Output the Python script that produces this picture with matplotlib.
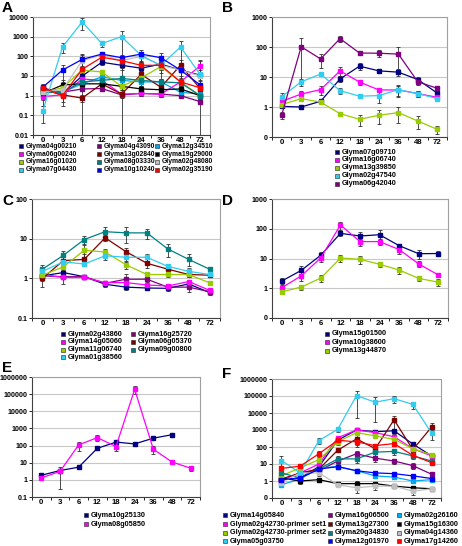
import matplotlib
matplotlib.use('Agg')
import matplotlib.pyplot as plt
from matplotlib.lines import Line2D
from matplotlib.ticker import FixedLocator, NullLocator
from matplotlib import font_manager
import numpy as np

# make sure the Arial-metric Liberation fonts are registered
for _f in font_manager.findSystemFonts():
    if 'Liberation' in _f or 'liberation' in _f:
        try:
            font_manager.fontManager.addfont(_f)
        except Exception:
            pass
_names = {f.name for f in font_manager.fontManager.ttflist}
FAM = 'DejaVu Sans'
for _n in ['Liberation Sans', 'Arimo', 'Arial', 'Roboto', 'Noto Sans']:
    if _n in _names:
        FAM = _n
        break
plt.rcParams['font.family'] = [FAM, 'DejaVu Sans']

W, H = 462, 546
hours = ['0', '3', '6', '12', '18', '24', '36', '48', '72']

NAVY = '#000080'; MAG = '#FF00FF'; YG = '#99CC00'; CYAN = '#33CCEE'
PURP = '#800080'; DRED = '#800000'; TEAL = '#008080'; BLUE = '#0000FF'
SKY = '#00A8F0'; BLACK = '#000000'; GRAY = '#C0C0C0'; RED = '#FF0000'

# ---------------- Panel A ----------------
A_04g00210 = [2.5, 1.3, 10, 50, 35, 25, 40, 20, 11]
A_04g00210_err = [1, 0.5, 4, 15, 10, 8, 15, 10, 5]
A_06g00240 = [0.9, 1.1, 7, 6, 1.2, 1.3, 1.2, 5, 33]
A_06g00240_err = [0.3, 0.3, 2, 2, 0.3, 0.3, 0.3, 2, 30]
A_16g01020 = [1.5, 2.5, 20, 16, 3, 8, 30, 5, 1]
A_16g01020_err = [0.5, 1.5, 8, 5, 1, 3, 10, 2, 0.3]
A_07g04430 = [0.17, 300, 5600, 450, 1000, 110, 35, 300, 12]
A_07g04430_err = [0.13, 150, 3500, 150, 1000, 60, 20, 280, 8]
A_04g43090 = [2.2, 1.5, 2.2, 2.3, 1.1, 1.3, 1.2, 1.0, 0.5]
A_04g43090_err = [0.5, 0.5, 0.5, 0.5, 0.2, 0.3, 0.3, 0.2, 0.1]
A_13g02840 = [2.0, 1.1, 0.75, 4, 1.2, 12, 2.7, 35, 2.3]
A_13g02840_err = [0.8, 0.8, 0.3, 2, 0.4, 5, 1.5, 30, 1]
A_08g03330 = [1.5, 1.5, 5, 6, 7.5, 6, 5, 4.5, 1]
A_08g03330_err = [0.5, 0.5, 2, 2, 2, 2, 2, 2, 0.3]
A_10g10240 = [2.7, 20, 70, 130, 85, 130, 85, 20, 3.5]
A_10g10240_err = [1, 15, 60, 40, 30, 70, 60, 15, 2]
A_12g34510 = [1.5, 1.5, 4, 9, 6, 5, 5, 1.5, 1.2]
A_12g34510_err = [0.5, 0.5, 2, 5, 2, 2, 2, 0.5, 0.5]
A_19g29000 = [1.3, 3.5, 4, 4, 3, 2.2, 2, 2.2, 1]
A_19g29000_err = [1, 2.5, 2, 2, 1, 1, 0.5, 1, 0.3]
A_02g48080 = [1.5, 2, 60, 120, 60, 100, 35, 20, 10]
A_02g48080_err = [0.5, 1, 60, 30, 40, 60, 30, 15, 50]
A_02g35190 = [2.5, 1, 22, 90, 60, 35, 35, 5, 2.5]
A_02g35190_err = [1, 0.5, 10, 30, 20, 15, 15, 3, 1]
A_yticks = [0.01, 0.1, 1, 10, 100, 1000, 10000]
A_yticklabels = ['0.01', '0.1', '1', '10', '100', '1000', '10000']

# ---------------- Panel B ----------------
B_07g09710 = [1.05, 1.0, 1.55, 8.6, 23, 16, 14.5, 8.2, 2.9]
B_07g09710_err = [0.1, 0.15, 0.3, 2, 6, 2, 4, 1.5, 0.8]
B_16g06740 = [1.55, 2.7, 3.8, 16, 6.8, 3.7, 3.7, 2.8, 2.1]
B_16g06740_err = [0.3, 0.8, 1.2, 5, 1.2, 0.5, 1.5, 0.7, 0.3]
B_13g39850 = [1.2, 1.9, 1.45, 0.6, 0.39, 0.53, 0.65, 0.34, 0.18]
B_13g39850_err = [0.15, 0.3, 0.2, 0.05, 0.15, 0.25, 0.35, 0.15, 0.05]
B_02g47540 = [2.2, 6.9, 12.5, 3.5, 2.3, 2.4, 3.8, 2.8, 1.9]
B_02g47540_err = [0.7, 2, 1.5, 0.8, 0.3, 1, 1.5, 0.6, 0.3]
B_06g42040 = [0.54, 102, 40, 190, 63, 62, 58, 6.9, 4.2]
B_06g42040_err = [0.15, 95, 20, 40, 5, 15, 45, 1.5, 1]
B_yticks = [0.1, 1, 10, 100, 1000]
B_yticklabels = ['0', '1', '10', '100', '1000']

# ---------------- Panel C ----------------
C_02g43860 = [1.15, 1.4, 1.1, 0.71, 0.6, 0.57, 0.56, 0.72, 0.44]
C_02g43860_err = [0.2, 0.2, 0.1, 0.1, 0.1, 0.07, 0.07, 0.15, 0.05]
C_14g05060 = [1.25, 1.05, 1.05, 0.78, 0.78, 0.68, 0.64, 0.83, 0.5]
C_14g05060_err = [0.1, 0.1, 0.1, 0.1, 0.1, 0.1, 0.1, 0.1, 0.05]
C_11g06740 = [1.2, 1.95, 5.1, 4.6, 2.2, 1.25, 1.25, 1.25, 0.77]
C_11g06740_err = [0.2, 0.4, 2, 0.8, 0.5, 0.2, 0.2, 0.2, 0.1]
C_01g38560 = [1.5, 2.6, 2.3, 3.7, 3.4, 3.4, 2.0, 1.5, 1.25]
C_01g38560_err = [0.3, 0.4, 0.3, 0.8, 0.8, 0.8, 0.3, 0.3, 0.2]
C_16g25720 = [1.15, 1.1, 1.1, 0.75, 0.95, 0.95, 0.6, 0.6, 0.46]
C_16g25720_err = [0.3, 0.4, 0.1, 0.1, 0.3, 0.15, 0.1, 0.15, 0.05]
C_06g05370 = [1.0, 2.8, 3.0, 10.5, 4.7, 2.4, 1.7, 1.25, 1.2]
C_06g05370_err = [0.4, 1.2, 1, 2, 1, 0.6, 0.4, 0.2, 0.1]
C_09g00800 = [1.7, 3.8, 9.5, 15, 14, 14, 5.5, 3.0, 1.7]
C_09g00800_err = [0.5, 1, 2, 4.5, 6, 4, 2, 1, 0.2]
C_yticks = [0.1, 1, 10, 100]
C_yticklabels = ['0.1', '1', '10', '100']

# ---------------- Panel D ----------------
D_15g01500 = [1.75, 4.0, 13, 70, 57, 63, 27, 14.5, 14.7]
D_15g01500_err = [0.4, 1.8, 4, 15, 20, 30, 4, 5, 3]
D_10g38600 = [1.05, 2.6, 10.6, 134, 37, 37, 20, 6.6, 2.8]
D_10g38600_err = [0.2, 0.8, 3, 40, 10, 8, 6, 1.5, 0.5]
D_13g44870 = [0.76, 1.1, 2.2, 10.4, 9.4, 6.4, 4.1, 2.15, 1.6]
D_13g44870_err = [0.05, 0.2, 0.6, 2.5, 3, 1.2, 1, 0.4, 0.4]
D_yticks = [0.1, 1, 10, 100, 1000]
D_yticklabels = ['0', '1', '10', '100', '1000']

# ---------------- Panel E ----------------
E_10g25130 = [1.85, 3.5, 5.5, 69, 160, 125, 270, 430, np.nan]
E_10g25130_err = [0.2, 0.5, 0.3, 10, 50, 30, 40, 40, 0]
E_08g05850 = [1.3, 3.1, 110, 290, 88, 190000, 61, 11, 4.8]
E_08g05850_err = [0.2, 2.8, 60, 100, 40, 90000, 30, 2, 1.5]
E_yticks = [0.1, 1, 10, 100, 1000, 10000, 100000, 1000000]
E_yticklabels = ['0.1', '1', '10', '100', '1000', '10000', '100000', '1000000']

# ---------------- Panel F ----------------
F_14g05840 = [1.2, 1.5, 7, 250, 1000, 800, 900, 150, 30]
F_14g05840_err = [0.3, 0.5, 3, 100, 300, 200, 300, 50, 8]
F_42730_set1 = [1.0, 3, 10, 350, 1000, 700, 400, 80, 30]
F_42730_set1_err = [0.3, 1, 3, 100, 300, 200, 100, 20, 8]
F_42730_set2 = [2, 6, 18, 200, 700, 450, 280, 80, 35]
F_42730_set2_err = [0.5, 3, 6, 60, 200, 100, 80, 20, 8]
F_05g03750 = [16, 3, 240, 1100, 105000, 43000, 70000, 32000, 650]
F_05g03750_err = [15, 2, 80, 300, 100000, 40000, 30000, 15000, 400]
F_16g06500 = [1.0, 3, 4, 15, 40, 22, 15, 8, 2.5]
F_16g06500_err = [0.3, 1, 1, 5, 20, 8, 5, 3, 0.8]
F_13g27300 = [1.3, 3, 5, 65, 300, 80, 4000, 70, 1500]
F_13g27300_err = [0.5, 1, 2, 15, 200, 40, 3000, 30, 1000]
F_20g34830 = [3, 1.5, 5, 20, 20, 50, 55, 30, 15]
F_20g34830_err = [1, 0.5, 2, 8, 8, 20, 20, 10, 4]
F_12g01970 = [1.2, 1.5, 5, 7, 4, 3, 2.7, 2, 1.4]
F_12g01970_err = [0.3, 0.3, 1, 1, 0.8, 0.6, 0.5, 0.4, 0.3]
F_02g26160 = [0.6, 1.3, 6, 7, 4, 2, 1.7, 1, 1.2]
F_02g26160_err = [0.1, 0.3, 1, 1, 0.8, 0.5, 0.4, 0.2, 0.2]
F_15g16300 = [1.5, 1, 1.2, 0.7, 0.7, 0.7, 0.5, 0.4, 0.35]
F_15g16300_err = [0.3, 0.3, 0.3, 0.1, 0.3, 0.2, 0.1, 0.1, 0.1]
F_04g14360 = [0.8, 3, 3, 0.6, 0.4, 0.5, 0.5, 0.25, 0.35]
F_04g14360_err = [0.2, 0.5, 1, 0.1, 0.2, 0.2, 0.1, 0.1, 0.1]
F_17g14260 = [5.5, 7.5, 40, 250, 200, 120, 160, 32, 12]
F_17g14260_err = [2, 3, 15, 50, 60, 40, 50, 10, 3]
F_yticks = [0.1, 1, 10, 100, 1000, 10000, 100000, 1000000]
F_yticklabels = ['0', '1', '10', '100', '1000', '10000', '100000', '1000000']

fig = plt.figure(figsize=(W / 100, H / 100), dpi=100)

LEG_FS = 5.2
YT_FS = 5.1
XT_FS = 5.6


def make_ax(l, t, r, b):
    return fig.add_axes([l / W, 1 - b / H, (r - l) / W, (b - t) / H])


def style_ax(ax, yticks, ylabels):
    ax.set_yscale('log')
    ax.set_ylim(yticks[0], yticks[-1])
    ax.yaxis.set_major_locator(FixedLocator(yticks))
    ax.yaxis.set_minor_locator(NullLocator())
    ax.set_yticklabels(ylabels)
    ax.set_xlim(-0.5, len(hours) - 0.5)
    ax.set_xticks(range(len(hours)))
    ax.set_xticklabels(hours)
    ax.set_xticks(np.arange(-0.5, len(hours), 1.0), minor=True)
    ax.tick_params(axis='x', which='major', length=0, pad=1.5, labelsize=XT_FS)
    ax.tick_params(axis='x', which='minor', length=2, width=0.6)
    ax.tick_params(axis='y', which='major', length=2.2, width=0.6, pad=1.2, labelsize=YT_FS)
    for lab in ax.get_xticklabels() + ax.get_yticklabels():
        lab.set_fontweight('bold')
    ax.yaxis.grid(True, color='#C8C8C8', lw=0.8)
    ax.set_axisbelow(True)
    for s in ['top', 'right']:
        ax.spines[s].set_color('#A0A0A0')
        ax.spines[s].set_linewidth(0.8)
    for s in ['left', 'bottom']:
        ax.spines[s].set_color('#404040')
        ax.spines[s].set_linewidth(0.8)


def plot_series(ax, series):
    x = np.arange(len(hours))
    for vals, err, label, color in series:
        v = np.array(vals, dtype=float)
        e = np.array(err, dtype=float)
        ax.errorbar(x, v, yerr=e, color=color, marker='s', ms=2.6, mec=color,
                    lw=0.9, ecolor='#303030', elinewidth=0.6, capsize=1.2,
                    capthick=0.6, zorder=3)


def legend(entries, cols_x, rows_y, fs=LEG_FS):
    # entries listed row by row (Excel order)
    ncol = len(cols_x)
    for i, (vals, err, label, color) in enumerate(entries):
        r, c = divmod(i, ncol)
        xm, y = cols_x[c], rows_y[r]
        fig.add_artist(Line2D([xm / W], [1 - y / H], transform=fig.transFigure,
                              marker='s', ms=3, mfc=color, mec='#202020',
                              mew=0.4, ls='none'))
        fig.text((xm + 4.5) / W, 1 - y / H, label, fontsize=fs,
                 fontweight='bold', va='center', ha='left')


def panel_label(x, y, s):
    fig.text(x / W, 1 - y / H, s, fontsize=11, fontweight='bold', va='top', ha='left')


# Panel A
A_series = [
    (A_04g00210, A_04g00210_err, 'Glyma04g00210', NAVY),
    (A_04g43090, A_04g43090_err, 'Glyma04g43090', PURP),
    (A_12g34510, A_12g34510_err, 'Glyma12g34510', SKY),
    (A_06g00240, A_06g00240_err, 'Glyma06g00240', MAG),
    (A_13g02840, A_13g02840_err, 'Glyma13g02840', DRED),
    (A_19g29000, A_19g29000_err, 'Glyma19g29000', BLACK),
    (A_16g01020, A_16g01020_err, 'Glyma16g01020', YG),
    (A_08g03330, A_08g03330_err, 'Glyma08g03330', TEAL),
    (A_02g48080, A_02g48080_err, 'Glyma02g48080', GRAY),
    (A_07g04430, A_07g04430_err, 'Glyma07g04430', CYAN),
    (A_10g10240, A_10g10240_err, 'Glyma10g10240', BLUE),
    (A_02g35190, A_02g35190_err, 'Glyma02g35190', RED),
]
axA = make_ax(33, 17, 210, 135)
style_ax(axA, A_yticks, A_yticklabels)
plot_series(axA, A_series)
legend(A_series, [21, 99, 157], [146.5, 154.2, 161.9, 169.6], fs=4.9)
panel_label(2, 1, 'A')

# Panel B
B_series = [
    (B_07g09710, B_07g09710_err, 'Glyma07g09710', NAVY),
    (B_16g06740, B_16g06740_err, 'Glyma16g06740', MAG),
    (B_13g39850, B_13g39850_err, 'Glyma13g39850', YG),
    (B_02g47540, B_02g47540_err, 'Glyma02g47540', CYAN),
    (B_06g42040, B_06g42040_err, 'Glyma06g42040', PURP),
]
axB = make_ax(272, 17, 447, 137)
style_ax(axB, B_yticks, B_yticklabels)
plot_series(axB, B_series)
legend(B_series, [337], [152, 159.9, 167.8, 175.7, 183.6])
panel_label(222, 1, 'B')

# Panel C
C_series = [
    (C_02g43860, C_02g43860_err, 'Glyma02g43860', NAVY),
    (C_16g25720, C_16g25720_err, 'Glyma16g25720', PURP),
    (C_14g05060, C_14g05060_err, 'Glyma14g05060', MAG),
    (C_06g05370, C_06g05370_err, 'Glyma06g05370', DRED),
    (C_11g06740, C_11g06740_err, 'Glyma11g06740', YG),
    (C_09g00800, C_09g00800_err, 'Glyma09g00800', TEAL),
    (C_01g38560, C_01g38560_err, 'Glyma01g38560', CYAN),
]
axC = make_ax(32, 199, 220, 318)
style_ax(axC, C_yticks, C_yticklabels)
plot_series(axC, C_series)
legend(C_series, [63, 133], [334, 341.8, 349.6, 357.4])
panel_label(2, 194, 'C')

# Panel D
D_series = [
    (D_15g01500, D_15g01500_err, 'Glyma15g01500', NAVY),
    (D_10g38600, D_10g38600_err, 'Glyma10g38600', MAG),
    (D_13g44870, D_13g44870_err, 'Glyma13g44870', YG),
]
axD = make_ax(272, 199, 448, 318)
style_ax(axD, D_yticks, D_yticklabels)
plot_series(axD, D_series)
legend(D_series, [327], [333.5, 342, 350.5])
panel_label(222, 194, 'D')

# Panel E
E_series = [
    (E_10g25130, E_10g25130_err, 'Glyma10g25130', NAVY),
    (E_08g05850, E_08g05850_err, 'Glyma08g05850', MAG),
]
axE = make_ax(32, 377, 200, 497)
style_ax(axE, E_yticks, E_yticklabels)
plot_series(axE, E_series)
legend(E_series, [86], [515.3, 524])
panel_label(2, 361, 'E')

# Panel F
F_series = [
    (F_14g05840, F_14g05840_err, 'Glyma14g05840', NAVY),
    (F_16g06500, F_16g06500_err, 'Glyma16g06500', PURP),
    (F_02g26160, F_02g26160_err, 'Glyma02g26160', SKY),
    (F_42730_set1, F_42730_set1_err, 'Glyma02g42730-primer set1', MAG),
    (F_13g27300, F_13g27300_err, 'Glyma13g27300', DRED),
    (F_15g16300, F_15g16300_err, 'Glyma15g16300', BLACK),
    (F_42730_set2, F_42730_set2_err, 'Glyma02g42730-primer set2', YG),
    (F_20g34830, F_20g34830_err, 'Glyma20g34830', TEAL),
    (F_04g14360, F_04g14360_err, 'Glyma04g14360', GRAY),
    (F_05g03750, F_05g03750_err, 'Glyma05g03750', CYAN),
    (F_12g01970, F_12g01970_err, 'Glyma12g01970', BLUE),
    (F_17g14260, F_17g14260_err, 'Glyma17g14260', RED),
]
axF = make_ax(272, 379, 441, 498)
style_ax(axF, F_yticks, F_yticklabels)
plot_series(axF, F_series)
legend(F_series, [225, 330, 399], [515.3, 524, 532.7, 541.4])
panel_label(222, 367, 'F')

fig.savefig('out.png', dpi=100)
